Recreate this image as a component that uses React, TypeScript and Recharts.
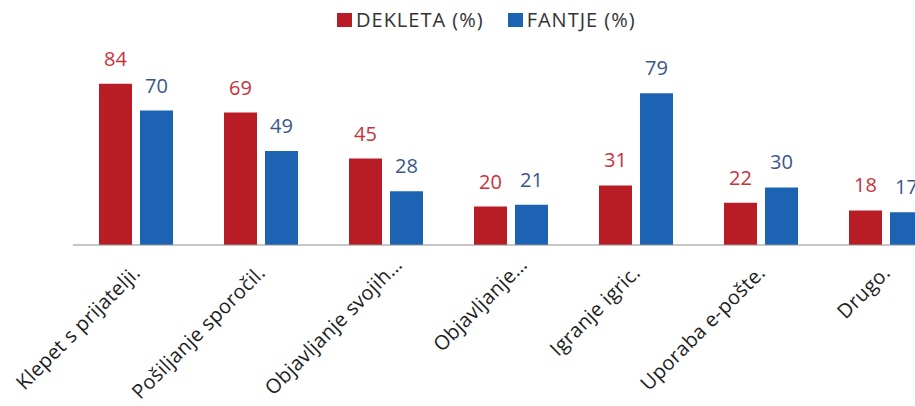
import React from 'react';
import { BarChart, Bar, XAxis, YAxis, Legend, LabelList } from 'recharts';

const categories = [
  'Klepet s prijatelji.',
  'Pošiljanje sporočil.',
  'Objavljanje svojih…',
  'Objavljanje…',
  'Igranje igric.',
  'Uporaba e-pošte.',
  'Drugo.',
];
const dekleta = [84, 69, 45, 20, 31, 22, 18];
const fantje = [70, 49, 28, 21, 79, 30, 17];
const seriesNames = ['DEKLETA (%)', 'FANTJE (%)'];

const RED = '#b81d25';
const BLUE = '#1c64b3';
const RED_TEXT = '#c8323a';
const BLUE_TEXT = '#3b5687';
const FONT = '"Open Sans", Lato, sans-serif';

const data = categories.map((c, i) => ({ name: c, d: dekleta[i], f: fantje[i] }));

const Tick = (props: any) => {
  const { x, y, payload } = props;
  const truncated = String(payload.value).endsWith('…');
  const ax = x + (truncated ? 18 : 6);
  const ay = y + (truncated ? 21 : 29);
  return (
    <text
      x={ax}
      y={ay}
      transform={`rotate(-45 ${ax} ${ay})`}
      textAnchor="end"
      fontSize={20}
      letterSpacing={0.3}
      fontFamily={FONT}
      fill="#1e1e1e"
    >
      {payload.value}
    </text>
  );
};

const renderLegend = () => (
  <div style={{ display: 'flex', alignItems: 'center', fontFamily: FONT, fontSize: 20, letterSpacing: 1, color: '#333', whiteSpace: 'nowrap' }}>
    <span style={{ display: 'inline-block', width: 15, height: 14, background: RED, marginRight: 4 }} />
    <span style={{ marginRight: 24 }}>{seriesNames[0]}</span>
    <span style={{ display: 'inline-block', width: 15, height: 14, background: BLUE, marginRight: 4 }} />
    <span>{seriesNames[1]}</span>
  </div>
);

export default function App() {
  return (
    <div style={{ position: 'fixed', left: 0, top: 0, width: 915, height: 406, overflow: 'hidden', background: '#fff' }}>
      <BarChart
        width={960}
        height={406}
        data={data}
        margin={{ top: 53, right: 12, bottom: 0, left: 73 }}
        barSize={33}
        barGap={8}
      >
        <XAxis
          dataKey="name"
          height={161}
          interval={0}
          tickLine={false}
          tickSize={0}
          tickMargin={0}
          axisLine={{ stroke: '#8f8f8f', strokeWidth: 1 }}
          tick={<Tick />}
        />
        <YAxis hide domain={[0, 100]} />
        <Legend
          layout="horizontal"
          verticalAlign="middle"
          content={renderLegend}
          wrapperStyle={{ left: 337, top: 6, width: 'auto' }}
        />
        <Bar dataKey="d" name={seriesNames[0]} fill={RED} isAnimationActive={false}>
          <LabelList dataKey="d" position="top" offset={18} fill={RED_TEXT} fontSize={20} fontFamily={FONT} />
        </Bar>
        <Bar dataKey="f" name={seriesNames[1]} fill={BLUE} isAnimationActive={false}>
          <LabelList dataKey="f" position="top" offset={18} fill={BLUE_TEXT} fontSize={20} fontFamily={FONT} />
        </Bar>
      </BarChart>
    </div>
  );
}
